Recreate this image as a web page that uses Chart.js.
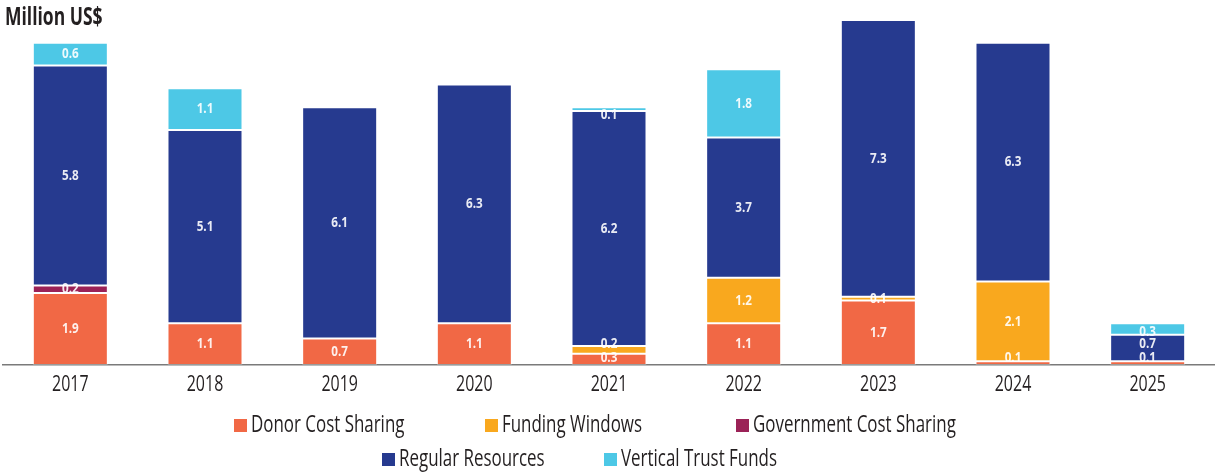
<!DOCTYPE html>
<html>
<head>
<meta charset="utf-8">
<script src="https://cdn.jsdelivr.net/npm/chart.js@4"></script>
<style>
  html, body { margin: 0; padding: 0; background: #fff; }
  #wrap { width: 1215px; height: 473px; position: relative; }
</style>
</head>
<body>
<div id="wrap"><canvas id="chart"></canvas></div>
<script>
/* ---------- Data (million US$) ---------- */
const years = ['2017', '2018', '2019', '2020', '2021', '2022', '2023', '2024', '2025'];

const donorCostSharing      = [1.9, 1.1, 0.7, 1.1, 0.3, 1.1, 1.7, 0.1, 0.1];
const fundingWindows        = [null, null, null, null, 0.2, 1.2, 0.1, 2.1, null];
const governmentCostSharing = [0.2, null, null, null, null, null, null, null, null];
const regularResources      = [5.8, 5.1, 6.1, 6.3, 6.2, 3.7, 7.3, 6.3, 0.7];
const verticalTrustFunds    = [0.6, 1.1, 0.04, null, 0.1, 1.8, null, null, 0.3];

const seriesNames  = ['Donor Cost Sharing', 'Funding Windows', 'Government Cost Sharing', 'Regular Resources', 'Vertical Trust Funds'];
const seriesValues = [donorCostSharing, fundingWindows, governmentCostSharing, regularResources, verticalTrustFunds];
const seriesColors = ['#f16845', '#f9a81e', '#9b2257', '#263a8f', '#4dc8e6'];

const FONT = "'Open Sans', 'Noto Sans', sans-serif";
const INK = '#231f20';

// fillText with horizontal compression around the anchor point (condensed look)
function narrowText(ctx, text, x, y, sx) {
  ctx.save();
  ctx.translate(x, y);
  ctx.scale(sx, 1);
  ctx.fillText(text, 0, 0);
  ctx.restore();
}

/* ---------- Segment labels, stacked bottom-up so small ones don't collide ---------- */
const segmentLabels = {
  id: 'segmentLabels',
  afterDatasetsDraw(chart) {
    const ctx = chart.ctx;
    const base = chart.scales.y.getPixelForValue(0);
    ctx.save();
    ctx.font = `bold 15px ${FONT}`;
    ctx.fillStyle = 'rgba(255,255,255,0.9)';
    ctx.textAlign = 'center';
    ctx.textBaseline = 'middle';
    years.forEach((_, i) => {
      let prevY = base + 7;
      let barTop = base;
      const labels = [];
      chart.data.datasets.forEach((ds, d) => {
        const v = ds.data[i];
        if (v == null) return;
        const bar = chart.getDatasetMeta(d).data[i];
        barTop = Math.min(barTop, bar.y);
        if (v < 0.05) return;
        const y = Math.min((bar.y + bar.base) / 2, base - 7, prevY - 14);
        prevY = y;
        labels.push({ x: bar.x, y, text: v.toFixed(1) });
      });
      labels.forEach(l => narrowText(ctx, l.text, l.x, Math.max(l.y, barTop + 8), 0.78));
    });
    ctx.restore();
  }
};

/* ---------- Year labels under the axis ---------- */
const yearLabels = {
  id: 'yearLabels',
  afterDraw(chart) {
    const ctx = chart.ctx;
    const xs = chart.scales.x;
    ctx.save();
    ctx.font = `21px ${FONT}`;
    ctx.fillStyle = INK;
    ctx.textAlign = 'center';
    ctx.textBaseline = 'alphabetic';
    xs.ticks.forEach((t, i) => narrowText(ctx, xs.getLabelForValue(t.value), xs.getPixelForTick(i), 391, 0.76));
    ctx.restore();
  }
};

/* ---------- Title and two-row legend ---------- */
const legendRows = [
  { baseline: 432, items: [[0, 234], [1, 485], [2, 736]] },
  { baseline: 466, items: [[3, 382], [4, 604]] }
];

const decorations = {
  id: 'decorations',
  afterDraw(chart) {
    const ctx = chart.ctx;
    ctx.save();
    ctx.fillStyle = INK;
    ctx.font = `bold 25px ${FONT}`;
    ctx.textBaseline = 'alphabetic';
    ctx.textAlign = 'left';
    narrowText(ctx, 'Million US$', 5, 25, 0.70);

    ctx.font = `24px ${FONT}`;
    legendRows.forEach(row => {
      row.items.forEach(([d, x]) => {
        const ds = chart.data.datasets[d];
        ctx.fillStyle = ds.backgroundColor;
        ctx.fillRect(x, row.baseline - 13, 13, 13);
        ctx.fillStyle = INK;
        narrowText(ctx, ds.label, x + 17, row.baseline, 0.705);
      });
    });
    ctx.restore();
  }
};

new Chart(document.getElementById('chart'), {
  type: 'bar',
  data: {
    labels: years,
    datasets: seriesNames.map((name, k) => ({
      label: name,
      data: seriesValues[k],
      backgroundColor: seriesColors[k],
      borderColor: 'rgba(255,255,255,0.25)',
      borderWidth: 1,
      borderSkipped: false,
      categoryPercentage: 1,
      barPercentage: 0.557
    }))
  },
  options: {
    responsive: true,
    maintainAspectRatio: false,
    animation: false,
    layout: { padding: { top: 20, left: 3, right: 0, bottom: 0 } },
    plugins: {
      legend: { display: false },
      tooltip: { enabled: false }
    },
    scales: {
      x: {
        stacked: true,
        grid: { display: false },
        border: { display: true, color: '#7a7a7a', width: 1.5 },
        ticks: { display: false },
        afterFit: scale => { scale.height = 108; }
      },
      y: {
        stacked: true,
        display: false,
        min: 0,
        max: 9.1
      }
    }
  },
  plugins: [segmentLabels, yearLabels, decorations]
});
</script>
</body>
</html>
